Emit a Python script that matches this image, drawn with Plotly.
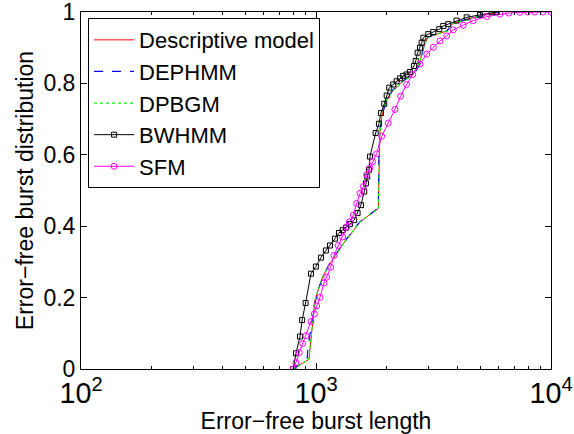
import plotly.graph_objects as go

# Descriptive model (red)
desc_x = [798, 933, 990, 1023, 1074, 1147, 1307, 1539, 1842, 1860, 1869, 1903, 1999, 2126, 2345, 2587, 2771, 2854, 2998, 3610, 3795, 4396, 5674, 6010]
desc_y = [0.0, 0.027, 0.192, 0.224, 0.262, 0.295, 0.351, 0.412, 0.450, 0.61, 0.66, 0.708, 0.755, 0.78, 0.806, 0.825, 0.86, 0.90, 0.93, 0.947, 0.966, 0.98, 0.997, 1.0]

# DEPHMM (blue dashed)
deph_x = [798, 916, 924, 990, 1023, 1074, 1147, 1307, 1539, 1842, 1852, 1872, 1912, 1999, 2126, 2345, 2614, 2775, 2865, 2998, 3610, 3795, 4396, 5674, 6010]
deph_y = [0.0, 0.025, 0.06, 0.185, 0.222, 0.262, 0.297, 0.352, 0.413, 0.451, 0.60, 0.67, 0.71, 0.757, 0.782, 0.807, 0.826, 0.855, 0.90, 0.93, 0.947, 0.966, 0.98, 0.997, 1.0]

# DPBGM (green dotted)
dpbg_x = [798, 933, 990, 1023, 1074, 1147, 1307, 1539, 1842, 1860, 1869, 1903, 1999, 2126, 2345, 2587, 2771, 2854, 2998, 3610, 3795, 4396, 5674, 6010]
dpbg_y = [0.0, 0.027, 0.192, 0.224, 0.262, 0.295, 0.351, 0.412, 0.450, 0.61, 0.66, 0.708, 0.755, 0.78, 0.806, 0.825, 0.86, 0.90, 0.93, 0.947, 0.966, 0.98, 0.997, 1.0]

# BWHMM (black, squares)
bw_x = [800, 822, 855, 873, 903, 952, 999, 1050, 1102, 1147, 1204, 1252, 1299, 1342, 1394, 1454, 1503, 1553, 1604, 1631, 1652, 1680, 1697, 1794, 1853, 1890, 1952, 1999, 2050, 2132, 2204, 2276, 2350, 2429, 2509, 2612, 2656, 2707, 2771, 2816, 2862, 3005, 3155, 3347, 3481, 3653, 3964, 4377, 4985, 5594, 5873]
bw_y = [0.0, 0.044, 0.091, 0.137, 0.185, 0.267, 0.287, 0.312, 0.332, 0.346, 0.365, 0.381, 0.389, 0.396, 0.406, 0.417, 0.437, 0.459, 0.497, 0.520, 0.539, 0.558, 0.595, 0.661, 0.687, 0.717, 0.743, 0.766, 0.788, 0.797, 0.806, 0.814, 0.821, 0.825, 0.832, 0.849, 0.863, 0.886, 0.900, 0.914, 0.928, 0.938, 0.944, 0.952, 0.961, 0.966, 0.976, 0.985, 0.992, 0.999, 1.0]

# SFM (magenta, circles)
sfm_x = [800, 822, 849, 877, 906, 952, 984, 1006, 1040, 1082, 1110, 1155, 1193, 1244, 1299, 1351, 1386, 1441, 1489, 1539, 1590, 1643, 1697, 1742, 1812, 1904, 2030, 2167, 2292, 2429, 2579, 2771, 2959, 3155, 3370, 3599, 3838, 4233, 4669, 5327, 6067, 6620, 7370, 7940, 8530, 9250, 10000]
sfm_y = [0.0, 0.018, 0.046, 0.071, 0.093, 0.133, 0.154, 0.177, 0.201, 0.241, 0.257, 0.285, 0.318, 0.346, 0.370, 0.398, 0.412, 0.431, 0.464, 0.492, 0.511, 0.544, 0.563, 0.581, 0.603, 0.652, 0.689, 0.727, 0.764, 0.797, 0.825, 0.854, 0.882, 0.901, 0.919, 0.933, 0.950, 0.963, 0.976, 0.987, 0.994, 0.997, 0.999, 1.0, 1.0, 1.0, 1.0]

fig = go.Figure()
fig.add_trace(go.Scatter(x=desc_x, y=desc_y, mode="lines", name="Descriptive model",
                         line=dict(color="#ff0000", width=1)))
fig.add_trace(go.Scatter(x=deph_x, y=deph_y, mode="lines", name="DEPHMM",
                         line=dict(color="#0000ff", width=1.2, dash="dash")))
fig.add_trace(go.Scatter(x=dpbg_x, y=dpbg_y, mode="lines", name="DPBGM",
                         line=dict(color="#00ff00", width=1.2, dash="dot")))
fig.add_trace(go.Scatter(x=bw_x, y=bw_y, mode="lines+markers", name="BWHMM",
                         line=dict(color="#000000", width=1),
                         marker=dict(symbol="square-open", size=5, color="#000000", line=dict(width=1))))
fig.add_trace(go.Scatter(x=sfm_x, y=sfm_y, mode="lines+markers", name="SFM",
                         line=dict(color="#ff00ff", width=1),
                         marker=dict(symbol="circle-open", size=6, color="#ff00ff", line=dict(width=1))))

font_family = "Liberation Sans, Arial, Helvetica, sans-serif"
fig.update_layout(
    width=574, height=434,
    margin=dict(l=81, r=23, t=12, b=65),
    paper_bgcolor="white", plot_bgcolor="white",
    font=dict(family=font_family, size=23, color="black"),
    showlegend=True,
    legend=dict(x=0.015, y=0.983, xanchor="left", yanchor="top",
                bgcolor="white", bordercolor="black", borderwidth=1,
                font=dict(size=22), tracegroupgap=0, itemwidth=40),
    xaxis=dict(type="log", range=[2, 4], dtick=1, exponentformat="power", automargin=False,
               showline=True, linecolor="black", linewidth=1, mirror="ticks",
               ticks="inside", ticklen=6, tickcolor="black", showgrid=False, zeroline=False,
               ticklabeloverflow="allow",
               minor=dict(ticks="inside", ticklen=3, tickcolor="black", showgrid=False, dtick="D1"),
               title=dict(text="Error\u2212free burst length", standoff=2, font=dict(size=23)),
               tickfont=dict(size=23)),
    yaxis=dict(range=[0, 1], automargin=False, tickvals=[0, 0.2, 0.4, 0.6, 0.8, 1],
               ticktext=["0", "0.2", "0.4", "0.6", "0.8", "1"],
               showline=True, linecolor="black", linewidth=1, mirror="ticks",
               ticks="inside", ticklen=6, tickcolor="black", showgrid=False, zeroline=False,
               ticklabeloverflow="allow",
               title=dict(text="Error\u2212free burst distribution", standoff=3, font=dict(size=23)),
               tickfont=dict(size=23)),
)

fig.write_html("out.html", config={"displayModeBar": False},
               post_script="document.body.style.margin='0';document.body.style.overflow='hidden';")
